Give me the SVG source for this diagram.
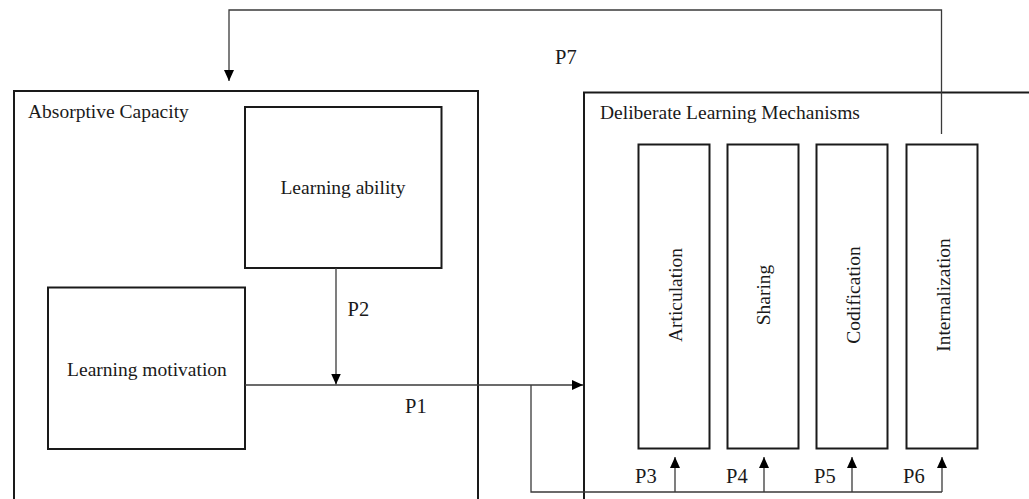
<svg xmlns="http://www.w3.org/2000/svg" width="1029" height="499" viewBox="0 0 1029 499">
<style>
.frame{fill:none;stroke:#1a1a1a;stroke-width:2}
.box{fill:#fff;stroke:#1a1a1a;stroke-width:2}
.conn{fill:none;stroke:#3a3a3a;stroke-width:1.3}
.t{font-family:"Liberation Serif","Times New Roman",serif;font-size:19.5px;fill:#1a1a1a}
.p{font-family:"Liberation Serif","Times New Roman",serif;font-size:20.5px;fill:#1a1a1a}
</style>
<defs>
<marker id="ah" markerUnits="userSpaceOnUse" markerWidth="11" markerHeight="10" refX="11" refY="5" orient="auto">
<path d="M0,0 L11,5 L0,10 z" fill="#000"/>
</marker>
</defs>
<rect width="1029" height="499" fill="#fff"/>
<g id="absorptive-capacity">
<path class="frame" d="M14,510 L14,91 L478,91 L478,510"/>
<text class="t" x="28" y="118">Absorptive Capacity</text>
</g>
<g id="deliberate-learning-mechanisms">
<path class="frame" d="M584,510 L584,92.5 L1040,92.5"/>
<text class="t" x="600" y="119">Deliberate Learning Mechanisms</text>
</g>
<g id="learning-ability">
<rect class="box" x="245" y="107" width="196.5" height="161"/>
<text class="t" x="343" y="194" text-anchor="middle">Learning ability</text>
</g>
<g id="learning-motivation">
<rect class="box" x="48" y="287.5" width="197" height="161.5"/>
<text class="t" x="147" y="376" text-anchor="middle">Learning motivation</text>
</g>
<g id="articulation">
<rect class="box" x="638.5" y="144.5" width="71" height="304"/>
<text class="t" transform="translate(682,295) rotate(-90)" text-anchor="middle">Articulation</text>
</g>
<g id="sharing">
<rect class="box" x="727.5" y="144.5" width="71" height="304"/>
<text class="t" transform="translate(770,295) rotate(-90)" text-anchor="middle">Sharing</text>
</g>
<g id="codification">
<rect class="box" x="816.5" y="144.5" width="71" height="304"/>
<text class="t" transform="translate(860,295) rotate(-90)" text-anchor="middle">Codification</text>
</g>
<g id="internalization">
<rect class="box" x="906.5" y="144.5" width="71" height="304"/>
<text class="t" transform="translate(950,295) rotate(-90)" text-anchor="middle">Internalization</text>
</g>
<g id="connectors">
<path class="conn" d="M941.5,134 L941.5,10 L229,10 L229,81" marker-end="url(#ah)"/>
<path class="conn" d="M336,268 L336,384.5" marker-end="url(#ah)"/>
<path class="conn" d="M245,385 L583,385" marker-end="url(#ah)"/>
<path class="conn" d="M531,385 L531,492 L942,492"/>
<path class="conn" d="M675,492 L675,457" marker-end="url(#ah)"/>
<path class="conn" d="M764,492 L764,457" marker-end="url(#ah)"/>
<path class="conn" d="M852,492 L852,457" marker-end="url(#ah)"/>
<path class="conn" d="M942,492 L942,457" marker-end="url(#ah)"/>
<text class="p" x="555" y="64">P7</text>
<text class="p" x="347.5" y="316">P2</text>
<text class="p" x="405" y="413">P1</text>
<text class="p" x="635" y="483">P3</text>
<text class="p" x="726" y="483">P4</text>
<text class="p" x="814" y="483">P5</text>
<text class="p" x="903" y="483">P6</text>
</g>
</svg>
